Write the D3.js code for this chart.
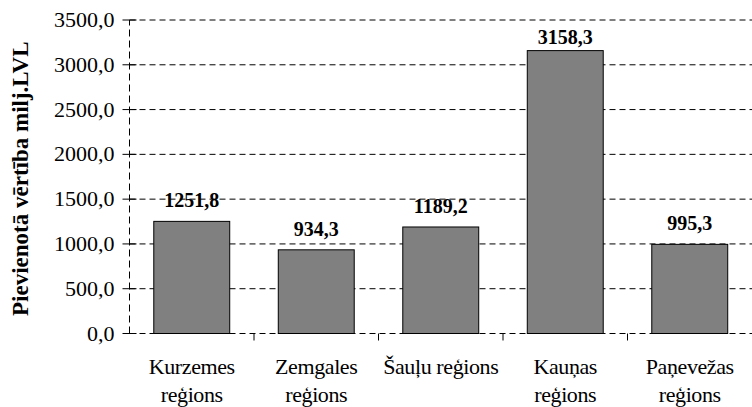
<!DOCTYPE html>
<html>
<head>
<meta charset="utf-8">
<script src="https://cdn.jsdelivr.net/npm/d3@7"></script>
<style>
  body { margin: 0; background: #fff; }
  svg { display: block; }
  svg text { font-family: "Liberation Serif", serif; }
</style>
</head>
<body>
<svg width="752" height="407"></svg>
<script>
const regions = [['Kurzemes', 'reģions'], ['Zemgales', 'reģions'], ['Šauļu reģions'], ['Kauņas', 'reģions'], ['Paņevežas', 'reģions']];
const values = [1251.8, 934.3, 1189.2, 3158.3, 995.3];
const yTicks = [0, 500, 1000, 1500, 2000, 2500, 3000, 3500];

const svg = d3.select('svg');
const plotLeft = 129.5, plotRight = 752, plotTop = 20, plotBottom = 333.5;
const fmt = v => d3.format('.1f')(v).replace('.', ',');

const x = d3.scaleBand()
  .domain(d3.range(values.length))
  .range([plotLeft, plotRight])
  .paddingInner(0.39)
  .paddingOuter(0.195);
const y = d3.scaleLinear().domain([0, 3500]).range([plotBottom, plotTop]);
const step = x.step();

// dashed gridlines
svg.append('g')
  .selectAll('line')
  .data(yTicks)
  .join('line')
  .attr('x1', plotLeft).attr('x2', plotRight)
  .attr('y1', d => y(d)).attr('y2', d => y(d))
  .attr('stroke', '#000')
  .attr('stroke-dasharray', '6,4');

// y axis (dashed line, cross ticks)
svg.append('line')
  .attr('x1', plotLeft).attr('x2', plotLeft)
  .attr('y1', y(0)).attr('y2', y(3500))
  .attr('stroke', '#000')
  .attr('stroke-dasharray', '7,4');
svg.append('g')
  .selectAll('line')
  .data(yTicks)
  .join('line')
  .attr('x1', plotLeft - 7).attr('x2', plotLeft + 7)
  .attr('y1', d => y(d)).attr('y2', d => y(d))
  .attr('stroke', '#000');
svg.append('g')
  .selectAll('text')
  .data(yTicks)
  .join('text')
  .attr('x', plotLeft - 15)
  .attr('y', d => y(d) + 7)
  .attr('text-anchor', 'end')
  .attr('font-size', 22)
  .text(fmt);

// x ticks at category boundaries
svg.append('g')
  .selectAll('line')
  .data(d3.range(1, values.length))
  .join('line')
  .attr('x1', i => plotLeft + i * step).attr('x2', i => plotLeft + i * step)
  .attr('y1', y(0)).attr('y2', y(0) + 7)
  .attr('stroke', '#000');

// bars
svg.append('g')
  .selectAll('rect')
  .data(values)
  .join('rect')
  .attr('x', (d, i) => x(i))
  .attr('y', d => y(d))
  .attr('width', x.bandwidth())
  .attr('height', d => y(0) - y(d))
  .attr('fill', '#808080')
  .attr('stroke', '#000')
  .attr('stroke-width', 1);

// value labels
svg.append('g')
  .selectAll('text')
  .data(values)
  .join('text')
  .attr('x', (d, i) => x(i) + x.bandwidth() / 2)
  .attr('y', d => Math.max(y(d) - 14, plotTop + 24))
  .attr('text-anchor', 'middle')
  .attr('font-size', 20)
  .attr('font-weight', 'bold')
  .text(fmt);

// category labels
svg.append('g')
  .selectAll('text')
  .data(regions)
  .join('text')
  .attr('x', (d, i) => x(i) + x.bandwidth() / 2)
  .attr('y', 374)
  .attr('text-anchor', 'middle')
  .attr('font-size', 22)
  .attr('letter-spacing', -0.4)
  .selectAll('tspan')
  .data(d => d)
  .join('tspan')
  .attr('x', function() { return this.parentNode.getAttribute('x'); })
  .attr('dy', (d, i) => i === 0 ? 0 : 28)
  .text(d => d);

// y axis title
svg.append('text')
  .attr('transform', `translate(28,${(plotTop + plotBottom) / 2 + 2}) rotate(-90)`)
  .attr('text-anchor', 'middle')
  .attr('font-size', 23)
  .attr('font-weight', 'bold')
  .text('Pievienotā vērtība milj.LVL');
</script>
</body>
</html>
